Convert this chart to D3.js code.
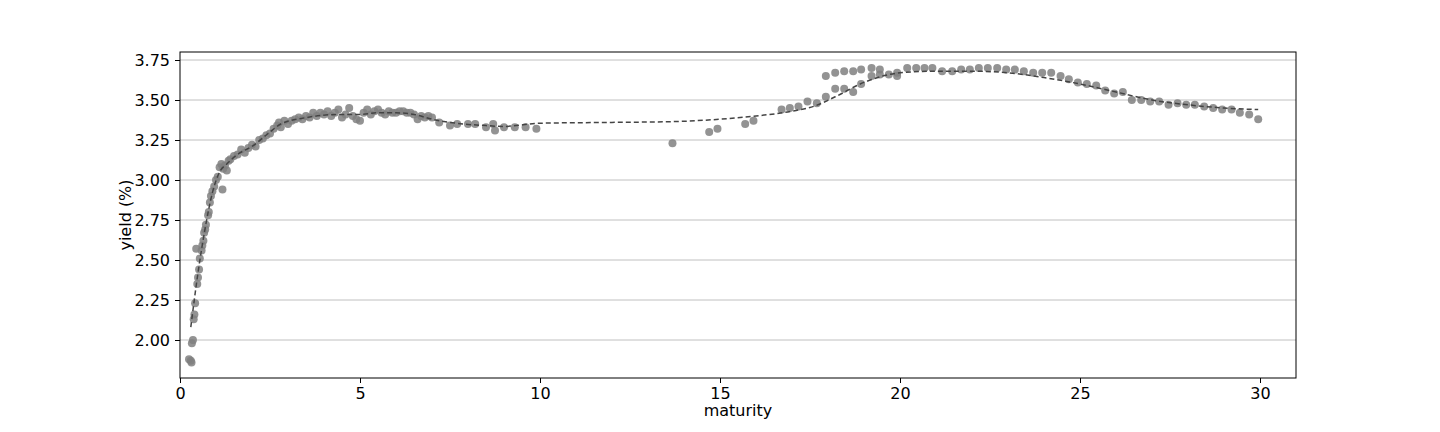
<!DOCTYPE html>
<html><head><meta charset="utf-8">
<script src="https://cdn.jsdelivr.net/npm/d3@7"></script>
<style>body{margin:0;background:#fff}text{font-family:"DejaVu Sans",sans-serif}</style>
</head><body>
<script>
// observed bonds
const maturity = [0.25,0.3,0.32,0.33,0.36,0.38,0.4,0.42,0.45,0.48,0.5,0.53,0.55,0.6,0.62,0.65,0.67,0.7,0.72,0.78,0.8,0.83,0.86,0.9,0.95,1.0,1.05,1.1,1.15,1.18,1.2,1.25,1.3,1.35,1.4,1.5,1.6,1.7,1.8,1.9,2.0,2.1,2.2,2.3,2.4,2.5,2.6,2.7,2.75,2.8,2.9,3.0,3.1,3.2,3.3,3.4,3.5,3.6,3.7,3.8,3.9,4.0,4.1,4.2,4.3,4.4,4.5,4.6,4.7,4.8,4.9,5.0,5.1,5.2,5.3,5.4,5.5,5.6,5.7,5.8,5.9,6.0,6.1,6.2,6.3,6.4,6.5,6.6,6.7,6.8,6.9,7.0,7.2,7.5,7.7,8.0,8.2,8.5,8.7,8.75,9.0,9.3,9.6,9.9,
13.68,14.7,14.93,15.7,15.93,16.71,16.94,17.18,17.43,17.69,17.94,17.94,18.2,18.2,18.45,18.45,18.7,18.7,18.92,18.92,19.21,19.21,19.44,19.44,19.69,19.92,19.92,20.2,20.45,20.68,20.9,21.17,21.45,21.7,21.94,22.19,22.44,22.7,22.95,23.19,23.44,23.7,23.95,24.2,24.46,24.69,24.94,25.19,25.45,25.7,25.95,26.19,26.44,26.7,26.95,27.2,27.46,27.71,27.95,28.19,28.45,28.7,28.95,29.21,29.44,29.7,29.95];
const yields = [1.88,1.87,1.86,1.98,2.0,2.13,2.16,2.23,2.57,2.35,2.39,2.44,2.51,2.56,2.59,2.62,2.67,2.69,2.72,2.78,2.8,2.86,2.9,2.93,2.96,3.0,3.02,3.08,3.1,2.94,3.07,3.09,3.06,3.12,3.13,3.15,3.16,3.19,3.17,3.2,3.22,3.21,3.25,3.26,3.28,3.29,3.32,3.34,3.36,3.33,3.37,3.35,3.37,3.38,3.39,3.38,3.4,3.39,3.42,3.4,3.42,3.41,3.43,3.4,3.42,3.44,3.39,3.41,3.45,3.4,3.38,3.37,3.42,3.44,3.41,3.43,3.44,3.42,3.41,3.43,3.42,3.42,3.43,3.43,3.42,3.42,3.41,3.38,3.4,3.39,3.4,3.39,3.36,3.34,3.35,3.35,3.35,3.33,3.35,3.31,3.33,3.33,3.33,3.32,
3.23,3.3,3.32,3.35,3.37,3.44,3.45,3.46,3.49,3.48,3.52,3.65,3.57,3.67,3.57,3.68,3.55,3.68,3.6,3.69,3.65,3.7,3.66,3.69,3.66,3.65,3.67,3.7,3.7,3.7,3.7,3.68,3.68,3.69,3.69,3.7,3.7,3.7,3.69,3.69,3.68,3.67,3.67,3.67,3.65,3.63,3.61,3.6,3.59,3.56,3.54,3.55,3.5,3.5,3.49,3.49,3.47,3.48,3.47,3.47,3.46,3.45,3.44,3.44,3.42,3.41,3.38];
// fitted curve
const fitMaturity = [0.3,0.5,0.7,0.9,1.1,1.3,1.6,2.0,2.5,2.8,3.5,4.5,5.0,5.5,6.0,6.5,7.0,7.5,8.5,9.0,10,12,13.7,15,16,17,17.6,18.2,19,20,21,22,23,24,25,26,27,28,29,29.95];
const fitYield = [2.08,2.42,2.70,2.92,3.05,3.10,3.16,3.21,3.30,3.35,3.39,3.41,3.41,3.42,3.42,3.41,3.38,3.36,3.34,3.335,3.355,3.36,3.365,3.38,3.40,3.43,3.46,3.52,3.61,3.67,3.68,3.68,3.67,3.64,3.60,3.55,3.50,3.47,3.45,3.44];
const yTicks = [2.00,2.25,2.50,2.75,3.00,3.25,3.50,3.75];
const xTicks = [0,5,10,15,20,25,30];

const W = 1440, H = 432, m = {l:180, r:144, t:52, b:54};
const svg = d3.select('body').append('svg').attr('width', W).attr('height', H);
const x = d3.scaleLinear().domain([0,31]).range([m.l, W - m.r]);
const y = d3.scaleLinear().domain([1.7625,3.80]).range([H - m.b, m.t]);

svg.append('g').selectAll('line').data(yTicks).join('line')
  .attr('x1', m.l).attr('x2', W - m.r).attr('y1', d => y(d)).attr('y2', d => y(d))
  .attr('stroke', '#c0c0c0').attr('stroke-width', 1);

svg.append('g').selectAll('circle').data(maturity).join('circle')
  .attr('cx', d => x(d)).attr('cy', (d, i) => y(yields[i])).attr('r', 4)
  .attr('fill', '#808080').attr('fill-opacity', 0.85);

svg.append('path').datum(fitMaturity)
  .attr('d', d3.line().x(d => x(d)).y((d, i) => y(fitYield[i])).curve(d3.curveMonotoneX))
  .attr('fill', 'none').attr('stroke', '#444').attr('stroke-width', 1.5).attr('stroke-dasharray', '5,3');

svg.append('rect').attr('x', m.l).attr('y', m.t).attr('width', W - m.r - m.l).attr('height', H - m.b - m.t)
  .attr('fill', 'none').attr('stroke', '#000').attr('stroke-width', 1);

const xa = svg.append('g').attr('transform', `translate(0,${H - m.b})`)
  .call(d3.axisBottom(x).tickValues(xTicks).tickFormat(d3.format('d')).tickSizeOuter(0).tickSize(5).tickPadding(5));
const ya = svg.append('g').attr('transform', `translate(${m.l},0)`)
  .call(d3.axisLeft(y).tickValues(yTicks).tickFormat(d3.format('.2f')).tickSizeOuter(0).tickSize(5).tickPadding(5));
[xa, ya].forEach(a => { a.select('.domain').remove(); a.selectAll('text').attr('font-size', 16).attr('fill', '#000'); });

svg.append('text').attr('x', (m.l + W - m.r) / 2).attr('y', 416).attr('text-anchor', 'middle')
  .attr('font-size', 16).text('maturity');
svg.append('text').attr('transform', `translate(131,${(m.t + H - m.b) / 2}) rotate(-90)`).attr('text-anchor', 'middle')
  .attr('font-size', 16).text('yield (%)');
</script>
</body></html>
